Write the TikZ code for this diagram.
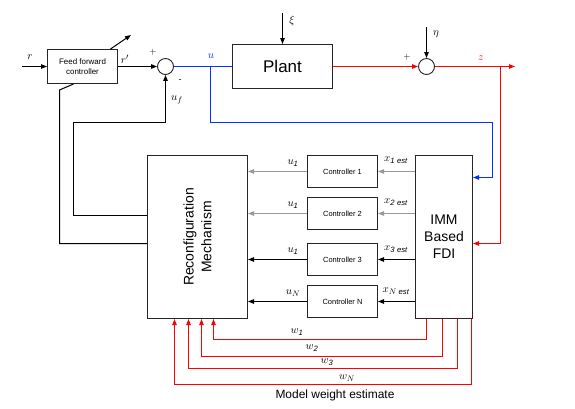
\documentclass[tikz,border=0pt]{standalone}
\usepackage{fontspec}
\setmainfont{Liberation Sans}
\usetikzlibrary{arrows.meta,calc}
\begin{document}
\begin{tikzpicture}[x=1bp,y=-1bp,
  blk/.style={draw=black!85, line width=1bp, inner sep=0pt, align=center},
  ctrl/.style={blk, minimum width=70bp, minimum height=32bp, font=\fontsize{7.5}{9}\selectfont},
  sumc/.style={circle, draw=black!85, line width=0.9bp, minimum size=16bp, inner sep=0pt},
  ln/.style={line width=1bp},
  arr/.style={ln, -{Triangle[length=6bp,width=4.5bp]}},
  lab/.style={font=\fontsize{11}{13}\selectfont, inner sep=0pt},
  sml/.style={font=\fontsize{9}{10}\selectfont, inner sep=0pt},
  rarr/.style={arr, red},
  grayarr/.style={arr, black!40},
]
\useasboundingbox (0,0) rectangle (575,408);

% blocks
\node[blk, minimum width=70bp, minimum height=34bp, font=\fontsize{8}{10}\selectfont] (ff) at (82.5,66.5) {Feed forward\\controller};
\node[sumc] (s1) at (165.5,66.5) {};
\node[blk, minimum width=100bp, minimum height=44bp, font=\fontsize{17}{20}\selectfont] (plant) at (282.5,66.5) {Plant};
\node[sumc] (s2) at (426.5,66.5) {};
\node[blk, minimum width=100bp, minimum height=163bp] (rm) at (197.5,237) {};
\node[rotate=90, align=center, font=\fontsize{14}{18}\selectfont] (rmt) at (rm.center) {Reconfiguration\\Mechanism};
\node[blk, minimum width=57bp, minimum height=163bp, font=\fontsize{14}{17}\selectfont] (imm) at (444,237) {IMM\\Based\\FDI};
\node[ctrl] (c1) at (342.5,171.5) {Controller 1};
\node[ctrl] (c2) at (342.5,213.5) {Controller 2};
\node[ctrl] (c3) at (342.5,259.5) {Controller 3};
\node[ctrl] (cn) at (342.5,301.5) {Controller N};

% coordinates for free ends
\coordinate (rin) at (22,66.5);
\coordinate (adj) at (131,35);
\coordinate (xiin) at (282.5,13);
\coordinate (etain) at (426.5,27);
\coordinate (zout) at (515,66.5);
\coordinate (ubr) at (210.5,66.5);
\coordinate (zbr) at (500.5,66.5);

% top loop
\draw[arr] (rin) -- (ff.west);
\draw[arr] ([xshift=28bp]ff.north) -- (adj);
\draw[arr] (ff.east) -- (s1.west);
\draw[ln, blue!80!cyan] (s1.east) -- (plant.west);
\draw[arr, blue!80!cyan] (ubr) |- (492.5,122.5) |- ([yshift=59.5bp]imm.east);
\draw[arr] (xiin) -- (plant.north);
\draw[rarr] (plant.east) -- (s2.west);
\draw[arr] (etain) -- (s2.north);
\draw[rarr] (s2.east) -- (zout);
\draw[rarr] (zbr) |- ([yshift=-6.5bp]imm.east);

% feedback lines
\draw[arr] ([yshift=21.5bp]rm.west) -| (73.5,122.5) -| (s1.south);
\draw[ln] ([yshift=-6.5bp]rm.west) -| (59.5,90) -- ([xshift=-9bp]ff.south);

% controllers
\draw[grayarr] (imm.west |- c1.east) -- (c1.east);
\draw[grayarr] (imm.west |- c2.east) -- (c2.east);
\draw[arr] (imm.west |- c3.east) -- (c3.east);
\draw[arr] (imm.west |- cn.east) -- (cn.east);
\draw[grayarr] (c1.west) -- (rm.east |- c1.west);
\draw[grayarr] (c2.west) -- (rm.east |- c2.west);
\draw[arr] (c3.west) -- (rm.east |- c3.west);
\draw[arr] (cn.west) -- (rm.east |- cn.west);

% weights
\draw[rarr] ([xshift=-17.5bp]imm.south) -- ++(0,20) -| ([xshift=16bp]rm.south);
\draw[rarr] ([xshift=-1.5bp]imm.south) -- ++(0,37) -| ([xshift=4bp]rm.south);
\draw[rarr] ([xshift=13.5bp]imm.south) -- ++(0,49) -| ([xshift=-9bp]rm.south);
\draw[rarr] ([xshift=27.5bp]imm.south) -- ++(0,65) -| ([xshift=-23bp]rm.south);

% labels
\node[lab] (lr) at (30,57) {$r$};
\node[lab] (lrp) at (125,59) {$r'$};
\node[sml] (lp1) at (153,52) {$+$};
\node[sml] (lm1) at (180,81) {-};
\node[lab, blue!80!cyan] (lu) at (211,56) {$u$};
\node[lab] (luf) at (177,100) {$u_f$};
\node[lab] (lxi) at (292,21) {$\xi$};
\node[sml] (lp2) at (407,57) {$+$};
\node[lab] (leta) at (436,34) {$\eta$};
\node[lab, red] (lz) at (481,58) {$z$};
\node[lab] (lu1) at (293,163) {$u_{\mathit 1}$};
\node[lab] (lu2) at (293,205) {$u_{\mathit 1}$};
\node[lab] (lu3) at (293,251) {$u_{\mathit 1}$};
\node[lab] (lu4) at (293,293) {$u_N$};
\node[lab] (lx1) at (396,160) {$x_{\mathit{1\;est}}$};
\node[lab] (lx2) at (396,202) {$x_{\mathit{2\;est}}$};
\node[lab] (lx3) at (396,249) {$x_{\mathit{3\;est}}$};
\node[lab] (lx4) at (396,291) {$x_{N\;\mathit{est}}$};
\node[lab] (lw1) at (297,332) {$w_{\mathit 1}$};
\node[lab] (lw2) at (312,348) {$w_{\mathit 2}$};
\node[lab] (lw3) at (327,362) {$w_{\mathit 3}$};
\node[lab] (lw4) at (347,378) {$w_N$};
\node[font=\fontsize{12}{14}\selectfont, inner sep=0pt] (mwe) at (335,395) {Model weight estimate};
\end{tikzpicture}
\end{document}
